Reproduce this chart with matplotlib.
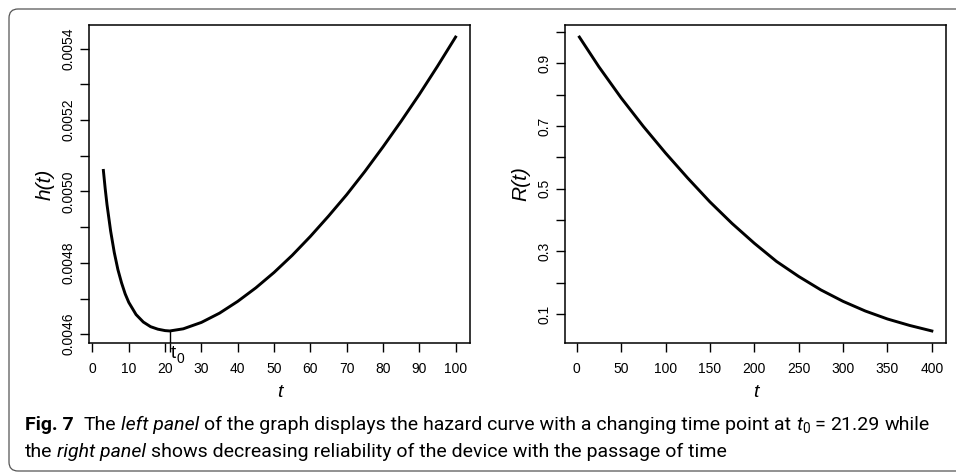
import matplotlib
matplotlib.use("Agg")
import matplotlib.pyplot as plt
from matplotlib import font_manager
from matplotlib.patches import FancyBboxPatch
from matplotlib.transforms import IdentityTransform, offset_copy

# hazard curve h(t), left panel
t_h = [3, 3.5, 4, 5, 6, 7, 8, 9, 10, 12, 14, 16, 18, 20, 21.29,
       25, 30, 35, 40, 45, 50, 55, 60, 65, 70, 75, 80, 85, 90, 95, 100]
h_vals = [0.005059, 0.005008, 0.004963, 0.004889, 0.004829, 0.004781,
          0.004744, 0.004713, 0.004689, 0.004655, 0.004634, 0.004621,
          0.004614, 0.004610, 0.004609,
          0.004615, 0.004633, 0.004659, 0.004692, 0.004730, 0.004773,
          0.004821, 0.004874, 0.004931, 0.004991, 0.005056, 0.005125,
          0.005197, 0.005272, 0.005351, 0.005433]
t0 = 21.29
h_t0 = 0.004609

# reliability R(t), right panel
t_r = [3, 25, 50, 75, 100, 125, 150, 175, 200, 225, 250, 275, 300,
       325, 350, 375, 400]
r_vals = [0.984, 0.889, 0.790, 0.699, 0.614, 0.534, 0.458, 0.389, 0.326,
          0.268, 0.220, 0.177, 0.1405, 0.1097, 0.0842, 0.0636, 0.046]

h_xticks = [0, 10, 20, 30, 40, 50, 60, 70, 80, 90, 100]
h_yticks = [0.0046, 0.0048, 0.0050, 0.0052, 0.0054]
h_yminor = [0.0047, 0.0049, 0.0051, 0.0053]
r_xticks = [0, 50, 100, 150, 200, 250, 300, 350, 400]
r_yticks = [0.1, 0.3, 0.5, 0.7, 0.9]
r_yminor = [0.2, 0.4, 0.6, 0.8, 1.0]


def first_font(names):
    have = {f.name for f in font_manager.fontManager.ttflist}
    for n in names:
        if n in have:
            return n
    return 'DejaVu Sans'


plot_font = first_font(['Liberation Sans', 'Arial', 'DejaVu Sans'])
cap_font = first_font(['Liberation Sans Narrow', 'Roboto', 'Lato'])
plt.rcParams['font.family'] = plot_font


def r_lim(v):
    # R style 4% padding around the data
    lo, hi = min(v), max(v)
    pad = 0.04 * (hi - lo)
    return lo - pad, hi + pad


def style_axes(ax, xt, yt, ym, ylab):
    for s in ax.spines.values():
        s.set_linewidth(1.1)
    ax.set_xticks(xt)
    ax.set_yticks(yt)
    ax.set_yticks(ym, minor=True)
    ax.tick_params(which='both', direction='out', length=6.5, width=1.0,
                   labelsize=10, color='black')
    ax.tick_params(axis='x', pad=7.5)
    ax.tick_params(axis='y', pad=3.5)
    plt.setp(ax.get_yticklabels(), rotation=90, va='center')
    ax.set_xlabel('t', fontstyle='italic', fontsize=14, labelpad=6)
    ax.set_ylabel(ylab, fontstyle='italic', fontsize=15, labelpad=5)


fig = plt.figure(figsize=(9.56, 4.72), dpi=100)

ax1 = fig.add_axes([0.0934, 0.2739, 0.3979, 0.6725])
ax1.plot(t_h, h_vals, color='black', lw=2.1, solid_joinstyle='round')
ax1.set_xlim(r_lim(t_h))
ax1.set_ylim(r_lim(h_vals))
ax1.yaxis.set_major_formatter(plt.FormatStrFormatter('%.4f'))
style_axes(ax1, h_xticks, h_yticks, h_yminor, 'h(t)')

# changing point t0: line from the curve down through the axis
ybot = ax1.get_ylim()[0]
ax1.plot([t0, t0], [ybot, h_t0], color='black', lw=1.0)
ax1.set_xticks([t0], minor=True)
tr = offset_copy(ax1.get_xaxis_transform(), fig=fig, x=1.0, y=-1.5,
                 units='points')
ax1.text(t0, 0, 't', transform=tr, fontsize=13.5, ha='left', va='top')
tr0 = offset_copy(ax1.get_xaxis_transform(), fig=fig, x=4.8, y=-6.5,
                  units='points')
ax1.text(t0, 0, '0', transform=tr0, fontsize=10, ha='left', va='top')

ax2 = fig.add_axes([0.5913, 0.2739, 0.3982, 0.6725])
ax2.plot(t_r, r_vals, color='black', lw=2.1, solid_joinstyle='round')
ax2.set_xlim(r_lim(t_r))
ax2.set_ylim(r_lim(r_vals))
style_axes(ax2, r_xticks, r_yticks, r_yminor, 'R(t)')

# rounded frame around figure and caption (pixel coordinates)
frame = FancyBboxPatch((9, 1), 1020, 462, boxstyle='round,pad=0,rounding_size=9',
                       transform=IdentityTransform(), fill=False,
                       edgecolor='#555555', lw=0.9)
fig.patches.append(frame)

# caption, drawn piece by piece
renderer = fig.canvas.get_renderer()
cap_size = 14.0


def text_w(s, **kw):
    t = fig.text(0, 0, s, transform=IdentityTransform(), **kw)
    w = t.get_window_extent(renderer).width
    t.remove()
    return w


space = text_w('a a', family=cap_font, fontsize=cap_size) - \
    text_w('aa', family=cap_font, fontsize=cap_size)


def put_line(x, y, pieces):
    for s, kw in pieces:
        if s == ' ':
            x += space
            continue
        opts = dict(family=cap_font, fontsize=cap_size, va='baseline')
        opts.update(kw)
        dy = opts.pop('dy', 0)
        t = fig.text(x, y + dy, s, transform=IdentityTransform(), **opts)
        x += t.get_window_extent(renderer).width


reg = {}
ita = {'fontstyle': 'italic'}
bold = {'fontweight': 'bold'}
sub = {'fontsize': cap_size * 0.7, 'dy': -3}

put_line(25, 472 - 430, [
    ('Fig. 7', bold), (' ', reg), (' ', reg), ('The', reg), (' ', reg),
    ('left panel', ita), (' ', reg),
    ('of the graph displays the hazard curve with a changing time point at', reg),
    (' ', reg), ('t', ita), ('0', sub), (' ', reg), ('=', reg), (' ', reg),
    ('21.29', reg), (' ', reg), ('while', reg)])
put_line(25, 472 - 457, [
    ('the', reg), (' ', reg), ('right panel', ita), (' ', reg),
    ('shows decreasing reliability of the device with the passage of time', reg)])

fig.savefig('out.png', dpi=100)
